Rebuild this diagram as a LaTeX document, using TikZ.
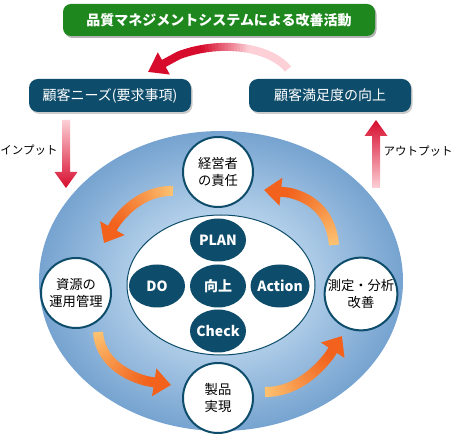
\documentclass[tikz,border=0pt]{standalone}
\usepackage{fontspec}
\setmainfont{Noto Sans CJK JP}
\usetikzlibrary{arrows.meta,shapes.geometric,shadows}
\definecolor{qteal}{RGB}{13,76,106}
\definecolor{qgreen}{RGB}{30,136,30}
\definecolor{qred}{RGB}{215,12,45}
\definecolor{qpink}{RGB}{252,208,214}
\definecolor{qorD}{RGB}{242,98,28}
\definecolor{qorL}{RGB}{253,194,112}
\definecolor{qbO}{RGB}{118,163,208}
\definecolor{qbM}{RGB}{185,212,236}
\definecolor{qbI}{RGB}{236,243,250}
\pgfdeclareradialshading{qring}{\pgfpoint{0bp}{0bp}}{color(0bp)=(qbI); color(10bp)=(qbM); color(25bp)=(qbO); color(50bp)=(qbO)}
% gradient curved arrow: #1 curve, #2 end, #3 start colour, #4 end colour, #5 width, #6 tip, #7 ramp start, #8 ramp end
\newcommand\qgrad[8]{%
  \foreach \qi in {0,...,39}{%
    \pgfmathsetmacro\qta{\qi*0.8/40}%
    \pgfmathsetmacro\qtb{(\qi+1.2)*0.8/40}%
    \pgfmathsetmacro\qpc{max(0,min(100,100*(\qta-#7)/(#8-#7)))}%
    \path #1 coordinate[pos=\qta] (qa) coordinate[pos=\qtb] (qb);%
    \draw[line width=#5, color=#4!\qpc!#3] (qa) -- (qb);%
  }%
  \path #1 coordinate[pos=0.8] (qa);%
  \draw[line width=#5, color=#4, -{Triangle[#6]}] (qa) -- #2;%
}
\tikzset{
  banner/.style={fill=qgreen, rounded corners=8pt, minimum width=312pt, minimum height=32pt,
    text=white, font=\fontsize{14pt}{16pt}\selectfont\bfseries,
    drop shadow={shadow xshift=1.5pt, shadow yshift=-2pt, fill=black!50, opacity=0.6}},
  tealbox/.style={fill=qteal, rounded corners=9pt, minimum width=162pt, minimum height=33pt,
    text=white, font=\fontsize{14pt}{16pt}\selectfont,
    drop shadow={shadow xshift=1.5pt, shadow yshift=-2pt, fill=black!40, opacity=0.5}},
  stage/.style={circle, draw=qteal, line width=2pt, fill=white, minimum size=70pt, inner sep=0pt,
    align=center, font=\fontsize{13.3pt}{17.5pt}\selectfont},
  pdca/.style={ellipse, fill=qteal, text=white, minimum width=56pt, minimum height=43pt,
    inner xsep=-8pt, inner ysep=0pt, font=\fontsize{14pt}{16pt}\selectfont\bfseries},
  sidelabel/.style={font=\fontsize{11.5pt}{14pt}\selectfont, text=black}
}
\begin{document}
\begin{tikzpicture}[x=1pt,y=-1pt]
\useasboundingbox (0,0) rectangle (453,443);
% big shaded ellipse
\shade[shading=qring] (221,281) ellipse [x radius=182pt, y radius=150pt];
% inner white ellipse
\node[ellipse, draw=qteal, line width=1pt, fill=white, minimum width=188pt, minimum height=140pt] (inner) at (221,285) {};
% PDCA
\node[pdca] (plan) at (218,240) {PLAN};
\node[pdca] (up) at (218,286) {向上};
\node[pdca] (check) at (218,331) {Check};
\node[pdca] (do) at (157,286) {DO};
\node[pdca, minimum width=59pt] (act) at (280,286) {Action};
% stages
\node[stage] (mgmt) at (218,172) {経営者\\の責任};
\node[stage] (res) at (76,293) {資源の\\運用管理};
\node[stage] (meas) at (361,294) {測定・分析\\改善};
\node[stage] (prod) at (218,398) {製品\\実現};
% orange cycle arrows
\coordinate (o1s) at (173,191); \coordinate (o1a) at (148,190); \coordinate (o1b) at (120,207); \coordinate (o1e) at (104,243);
\coordinate (o2s) at (334,245); \coordinate (o2a) at (331,212); \coordinate (o2b) at (310,190); \coordinate (o2e) at (264,190);
\coordinate (o3s) at (98,332); \coordinate (o3a) at (100,362); \coordinate (o3b) at (128,382); \coordinate (o3e) at (171,385);
\coordinate (o4s) at (265,392); \coordinate (o4a) at (295,392); \coordinate (o4b) at (322,372); \coordinate (o4e) at (342,336);
\qgrad{(o1s) .. controls (o1a) and (o1b) .. (o1e)}{(o1e)}{qorL}{qorD}{10pt}{length=17pt,width=27pt}{0}{0.8}
\qgrad{(o2s) .. controls (o2a) and (o2b) .. (o2e)}{(o2e)}{qorL}{qorD}{10pt}{length=17pt,width=27pt}{0}{0.8}
\qgrad{(o3s) .. controls (o3a) and (o3b) .. (o3e)}{(o3e)}{qorL}{qorD}{10pt}{length=17pt,width=27pt}{0}{0.8}
\qgrad{(o4s) .. controls (o4a) and (o4b) .. (o4e)}{(o4e)}{qorL}{qorD}{10pt}{length=17pt,width=27pt}{0}{0.8}
% title and boxes
\node[banner] (title) at (219,20) {品質マネジメントシステムによる改善活動};
\node[tealbox] (needs) at (110,95.5) {顧客ニーズ(要求事項)};
\node[tealbox] (satis) at (330,95.5) {顧客満足度の向上};
% red curved arrow
\coordinate (r1s) at (288,69); \coordinate (r1a) at (266,42); \coordinate (r1b) at (196,36); \coordinate (r1e) at (148,72);
\qgrad{(r1s) .. controls (r1a) and (r1b) .. (r1e)}{(r1e)}{qpink}{qred}{8pt}{length=18pt,width=24pt}{0.35}{0.65}
% input / output arrows
\shade[top color=qpink, bottom color=qred] (62,120) -- (70,120) -- (70,172) -- (77.5,172) -- (66,188) -- (54.5,172) -- (62,172) -- cycle;
\shade[top color=qred, bottom color=qpink] (372,188) -- (380,188) -- (380,136) -- (387.5,136) -- (376,120) -- (364.5,136) -- (372,136) -- cycle;
\node[sidelabel] (inlab) at (29,150) {インプット};
\node[sidelabel] (outlab) at (418,151) {アウトプット};
\end{tikzpicture}
\end{document}
